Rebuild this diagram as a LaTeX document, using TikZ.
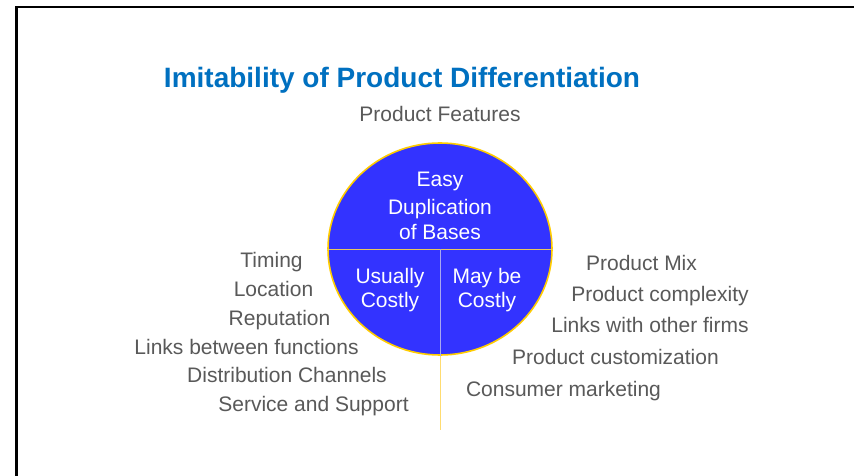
\documentclass[tikz,border=0pt]{standalone}
\usepackage{fontspec}
\setmainfont{Liberation Sans}
\usetikzlibrary{shapes.geometric}
\definecolor{titleblue}{HTML}{0070C0}
\definecolor{labelgray}{HTML}{595959}
\definecolor{discblue}{HTML}{3333FF}
\definecolor{rimgold}{HTML}{FFCC00}
\definecolor{splitgold}{HTML}{E8C860}
\definecolor{splitlav}{HTML}{A8A8F0}
\definecolor{tailgold}{HTML}{FFDC70}
\tikzset{
  lbl/.style={anchor=base, inner sep=0pt, text=labelgray, font=\fontsize{21}{25}\selectfont},
  inlbl/.style={anchor=base, inner sep=0pt, text=white, font=\fontsize{21}{25}\selectfont},
  ttl/.style={anchor=base, inner sep=0pt, text=titleblue, font=\fontsize{28}{32}\selectfont\bfseries},
  disc/.style={ellipse, draw=rimgold, line width=1.6pt, fill=discblue, inner sep=0pt,
               minimum width=224pt, minimum height=212pt},
  frame/.style={line width=2.6pt, black}
}
\begin{document}
\begin{tikzpicture}[x=1pt, y=-1pt]
\useasboundingbox (0,0) rectangle (854,476);
\fill[white] (0,0) rectangle (854,476);

% slide frame (open to the right and bottom)
\coordinate (fbl) at (16.5,476);
\coordinate (ftl) at (16.5,7);
\coordinate (ftr) at (854,7);
\draw[frame] (fbl) -- (ftl) -- (ftr);

% title and top label
\node[ttl] (title) at (402,88) {Imitability of Product Differentiation};
\node[lbl] (feat) at (440,122) {Product Features};

% central disc with its dividers
\node[disc] (ell) at (440,249) {};
\coordinate (tail) at (440,430);
\draw[splitgold, line width=0.8pt] (ell.west) -- (ell.east);
\draw[splitlav, line width=0.8pt] (ell.center) -- (ell.south);
\draw[tailgold, line width=0.8pt] (ell.south) -- (tail);

\node[inlbl] (easy) at (440,186.7) {Easy};
\node[inlbl] (dup) at (440,214) {Duplication};
\node[inlbl] (bases) at (440,239.3) {of Bases};
\node[inlbl] (usu) at (390,283.3) {Usually};
\node[inlbl] (usuc) at (390,307.3) {Costly};
\node[inlbl] (may) at (487,283) {May be};
\node[inlbl] (mayc) at (487,307) {Costly};

% left column
\node[lbl] (timing) at (271.5,267.3) {Timing};
\node[lbl] (loc) at (273.5,296) {Location};
\node[lbl] (rep) at (279.5,325) {Reputation};
\node[lbl] (links) at (246.5,354) {Links between functions};
\node[lbl] (dist) at (287,382.7) {Distribution Channels};
\node[lbl] (serv) at (313.5,411.7) {Service and Support};

% right column
\node[lbl] (mix) at (641.5,270) {Product Mix};
\node[lbl] (cplx) at (660,301.7) {Product complexity};
\node[lbl] (firms) at (650,332.7) {Links with other firms};
\node[lbl] (cust) at (615.5,364) {Product customization};
\node[lbl] (cons) at (563.5,396) {Consumer marketing};
\end{tikzpicture}
\end{document}
